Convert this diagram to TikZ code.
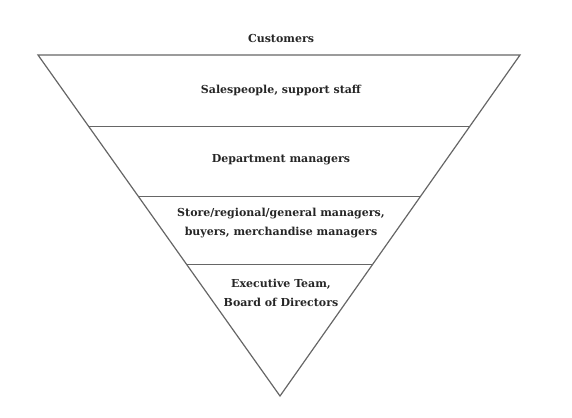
\documentclass[tikz,border=0pt]{standalone}
\usepackage{fontspec}
\setmainfont{DejaVu Serif}
\usetikzlibrary{calc}

\begin{document}
\begin{tikzpicture}[
    x=1pt, y=-1pt,
    tier/.style={font=\bfseries\fontsize{11}{19}\selectfont, align=center, text=black!85},
    edge/.style={draw=black!60, line width=1.2pt}
]
\useasboundingbox (0,0) rectangle (572,417);

% Corners
\coordinate (tl) at (38,55);
\coordinate (tr) at (520,55);
\coordinate (apex) at (280,396);

% Funnel
\draw [edge] (tl) -- (tr) -- (apex) -- cycle;
\foreach \f [count=\i] in {0.209, 0.414, 0.614} {
    \coordinate (sl\i) at ($(tl)!\f!(apex)$);
    \coordinate (sr\i) at ($(tr)!\f!(apex)$);
    \draw [edge] (sl\i) -- (sr\i);
}

% Labels
\node (cust) [tier] at (281,38) {Customers};
\node (sales) [tier] at (281,90) {Salespeople, support staff};
\node (dept) [tier] at (281,160) {Department managers};
\node (store) [tier] at (281,223) {Store/regional/general managers,\\buyers, merchandise managers};
\node (exec) [tier] at (281,293) {Executive Team,\\Board of Directors};

\end{tikzpicture}
\end{document}
